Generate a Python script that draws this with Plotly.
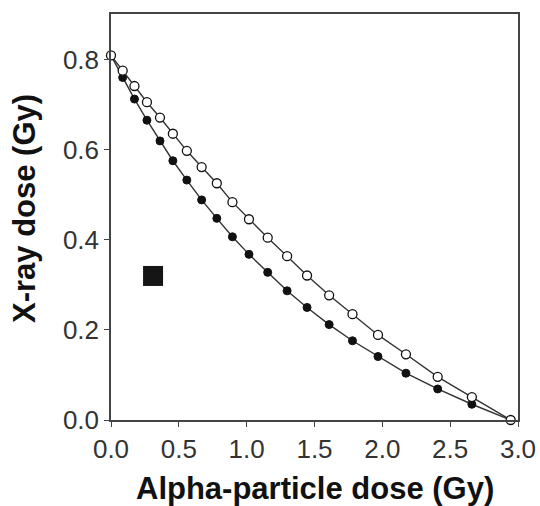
import plotly.graph_objects as go

# Alpha-particle dose (Gy) values shared by both isoeffect curves
alpha_dose = [0.0, 0.086, 0.173, 0.265, 0.361, 0.456, 0.559, 0.668, 0.780, 0.895,
              1.017, 1.155, 1.298, 1.445, 1.608, 1.780, 1.968, 2.174, 2.408, 2.660, 2.946]

# X-ray dose (Gy), open circles (upper curve)
xray_open = [0.810, 0.776, 0.742, 0.706, 0.672, 0.636, 0.598, 0.562, 0.526, 0.484,
             0.446, 0.405, 0.364, 0.321, 0.277, 0.235, 0.189, 0.146, 0.096, 0.051, 0.0]

# X-ray dose (Gy), filled circles (lower curve)
xray_filled = [0.810, 0.761, 0.713, 0.666, 0.620, 0.576, 0.533, 0.489, 0.448, 0.407,
               0.368, 0.328, 0.287, 0.250, 0.212, 0.176, 0.141, 0.104, 0.069, 0.035, 0.0]

# Single measured point (filled square)
square_x = [0.31]
square_y = [0.32]

x_ticks = [0.0, 0.5, 1.0, 1.5, 2.0, 2.5, 3.0]
y_ticks = [0.0, 0.2, 0.4, 0.6, 0.8]

line_col = "#333333"

fig = go.Figure()
fig.add_trace(go.Scatter(
    x=alpha_dose, y=xray_filled, mode="lines+markers",
    line=dict(color=line_col, width=1.4),
    marker=dict(symbol="circle", size=8, color="#111111", line=dict(color="#111111", width=1)),
    showlegend=False, cliponaxis=False))
fig.add_trace(go.Scatter(
    x=alpha_dose, y=xray_open, mode="lines+markers",
    line=dict(color=line_col, width=1.4),
    marker=dict(symbol="circle", size=9, color="white", line=dict(color="#111111", width=1.3)),
    showlegend=False, cliponaxis=False))
fig.add_trace(go.Scatter(
    x=square_x, y=square_y, mode="markers",
    marker=dict(symbol="square", size=20, color="#151515", line=dict(width=0)),
    showlegend=False))

font_family = "Liberation Sans, Arial, sans-serif"

fig.update_xaxes(
    range=[0, 3.0], tickvals=x_ticks, ticktext=[f"{v:.1f}" for v in x_ticks],
    automargin=False,
    showgrid=False, zeroline=False, showline=True, mirror=True,
    linecolor="#444444", linewidth=1.5,
    ticks="outside", ticklen=5, tickwidth=1.2, tickcolor="#444444",
    tickfont=dict(family=font_family, size=26, color="#333333"))
fig.update_yaxes(
    range=[0, 0.902], tickvals=y_ticks, ticktext=[f"{v:.1f}" for v in y_ticks],
    automargin=False,
    showgrid=False, zeroline=False, showline=True, mirror=True,
    linecolor="#444444", linewidth=1.5,
    ticks="outside", ticklen=5, tickwidth=1.2, tickcolor="#444444",
    tickfont=dict(family=font_family, size=26, color="#333333"))

fig.update_layout(
    width=540, height=506,
    margin=dict(l=111, r=22, t=14, b=86),
    paper_bgcolor="white", plot_bgcolor="white",
    annotations=[
        dict(text="<b>Alpha-particle dose (Gy)</b>", x=0.5, y=0, xref="paper", yref="paper",
             xanchor="center", yanchor="middle", yshift=-68, showarrow=False,
             font=dict(family=font_family, size=31, color="#111111")),
        dict(text="<b>X-ray dose (Gy)</b>", x=0, y=0.5, xref="paper", yref="paper",
             xanchor="center", yanchor="middle", xshift=-87, yshift=8, textangle=-90,
             showarrow=False, font=dict(family=font_family, size=31, color="#111111")),
    ])

fig.write_html("out.html",
               config={"displayModeBar": False},
               post_script="document.body.style.margin='0';document.body.style.overflow='hidden';")
